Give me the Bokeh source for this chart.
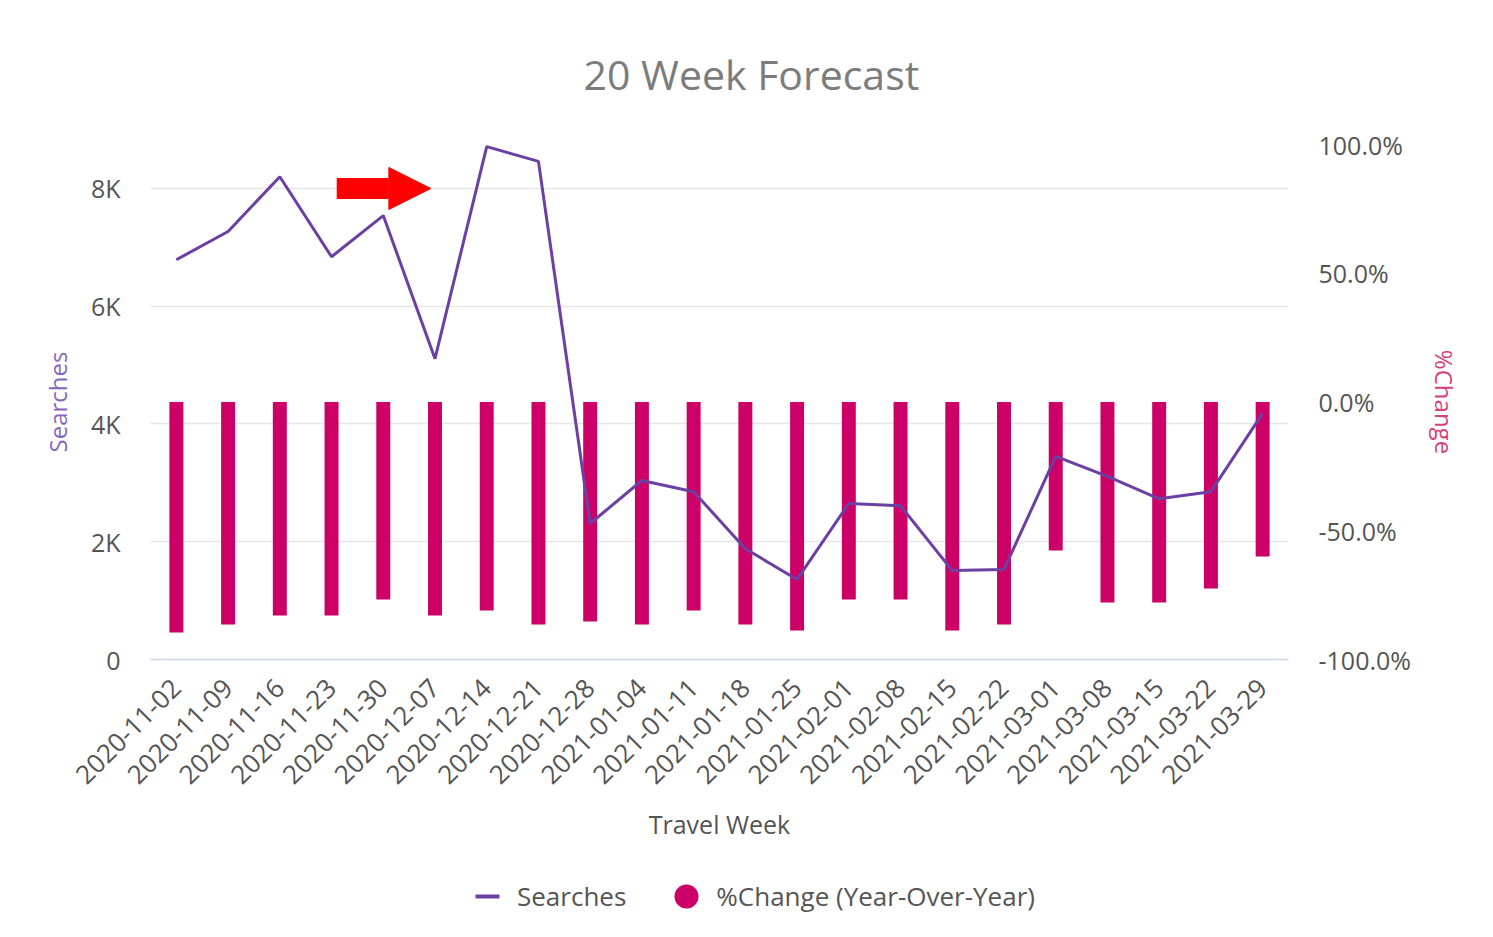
from bokeh.plotting import figure
from bokeh.layouts import column
from bokeh.models import (Range1d, LinearAxis, FixedTicker, Legend, LegendItem,
                          Arrow, NormalHead, Title)
from bokeh.embed import file_html
from bokeh.resources import INLINE

# ---- data ----
weeks = ["2020-11-02", "2020-11-09", "2020-11-16", "2020-11-23", "2020-11-30",
         "2020-12-07", "2020-12-14", "2020-12-21", "2020-12-28", "2021-01-04",
         "2021-01-11", "2021-01-18", "2021-01-25", "2021-02-01", "2021-02-08",
         "2021-02-15", "2021-02-22", "2021-03-01", "2021-03-08", "2021-03-15",
         "2021-03-22", "2021-03-29"]
searches = [6790, 7270, 8200, 6840, 7540, 5110, 8710, 8460, 2310, 3040, 2850,
            1880, 1360, 2650, 2610, 1510, 1530, 3450, 3110, 2730, 2850, 4180]
pct_change = [-89.5, -86.4, -82.9, -82.9, -76.7, -82.9, -81.0, -86.4, -85.2,
              -86.4, -81.0, -86.4, -88.7, -76.7, -76.7, -88.7, -86.4, -57.7,
              -77.9, -77.9, -72.4, -60.0]
left_ticks = [0, 2000, 4000, 6000, 8000]
left_labels = ["0", "2K", "4K", "6K", "8K"]
right_ticks = [-100, -50, 0, 50, 100]
right_labels = ["-100.0%", "-50.0%", "0.0%", "50.0%", "100.0%"]

idx = list(range(len(weeks)))

FONT = "Open Sans"
LINE_C = "#6c3fa3"
BAR_C = "#cc0066"
TXT_C = "#555555"

p = figure(frame_width=1138, frame_height=515,
           min_border_left=150, min_border_right=189,
           min_border_top=143, min_border_bottom=190,
           x_range=Range1d(-0.5, len(weeks) - 0.5),
           y_range=Range1d(0, 8747),
           output_backend="svg", toolbar_location=None,
           background_fill_color="white", border_fill_color="white")
p.outline_line_color = None
p.title = Title(text="20 Week Forecast", align="left", offset=433,
                text_font=FONT, text_font_size="41px",
                text_font_style="normal", text_color="#7c7c7c",
                standoff=86)

p.extra_y_ranges = {"pct": Range1d(-100, 100)}

# x axis
xa = p.xaxis[0]
xa.ticker = FixedTicker(ticks=idx)
xa.major_label_overrides = {i: w for i, w in zip(idx, weeks)}
xa.major_label_orientation = 0.785398
xa.major_label_text_font = FONT
xa.major_label_text_font_size = "26px"
xa.major_label_text_color = TXT_C
xa.major_tick_in = 0
xa.major_tick_out = 0
xa.minor_tick_in = 0
xa.minor_tick_out = 0
xa.major_label_standoff = 24
xa.axis_line_color = "#ccd6eb"
xa.axis_line_width = 1.5
xa.axis_label = "Travel Week"
xa.axis_label_text_font = FONT
xa.axis_label_text_font_size = "25px"
xa.axis_label_text_font_style = "normal"
xa.axis_label_text_color = TXT_C
xa.axis_label_standoff = 12

# left axis
ya = p.yaxis[0]
ya.ticker = FixedTicker(ticks=left_ticks)
ya.major_label_overrides = {t: l for t, l in zip(left_ticks, left_labels)}
ya.major_label_text_font = FONT
ya.major_label_text_font_size = "25px"
ya.major_label_text_color = TXT_C
ya.major_tick_in = 0
ya.major_tick_out = 0
ya.minor_tick_in = 0
ya.minor_tick_out = 0
ya.axis_line_color = None
ya.major_label_standoff = 30
ya.axis_label = "Searches"
ya.axis_label_text_font = FONT
ya.axis_label_text_font_size = "24px"
ya.axis_label_text_font_style = "normal"
ya.axis_label_text_color = "#8566c0"
ya.axis_label_standoff = 14

# right axis
ra = LinearAxis(y_range_name="pct",
                ticker=FixedTicker(ticks=right_ticks),
                major_label_overrides={t: l for t, l in zip(right_ticks, right_labels)})
ra.major_label_text_font = FONT
ra.major_label_text_font_size = "25px"
ra.major_label_text_color = TXT_C
ra.major_tick_in = 0
ra.major_tick_out = 0
ra.minor_tick_in = 0
ra.minor_tick_out = 0
ra.axis_line_color = None
ra.major_label_standoff = 30
ra.axis_label = "%Change"
ra.axis_label_text_font = FONT
ra.axis_label_text_font_size = "24px"
ra.axis_label_text_font_style = "normal"
ra.axis_label_text_color = "#d6417f"
ra.axis_label_standoff = 14
p.add_layout(ra, "right")

p.xgrid.grid_line_color = None
p.ygrid.grid_line_color = "#e6e6e6"
p.ygrid.grid_line_width = 1.5

bars = p.vbar(x=idx, top=0, bottom=pct_change, width=0.27,
              y_range_name="pct", fill_color=BAR_C, line_color=None)
line = p.line(x=idx, y=searches, line_width=3, line_color=LINE_C)

# annotation arrow (red)
ARROW_X0, ARROW_X1, ARROW_Y = 3.1, 4.92, 8000
p.add_layout(Arrow(end=NormalHead(size=42, fill_color="#ff0000", line_color="#ff0000", line_width=1),
                   x_start=ARROW_X0, y_start=ARROW_Y, x_end=ARROW_X1, y_end=ARROW_Y,
                   line_color="#ff0000", line_width=21, line_cap="butt"))

# ---- legend strip (separate figure under the chart) ----
lg = figure(width=1477, height=80, min_border=0,
            x_range=Range1d(0, 1), y_range=Range1d(0, 1),
            x_axis_type=None, y_axis_type=None,
            output_backend="svg", toolbar_location=None,
            background_fill_color="white", border_fill_color="white")
lg.outline_line_color = None
lg.grid.visible = False
# legend-only proxies (a single NaN point, never drawn in the plot area)
NAN = [float("nan")]
dash = lg.scatter(x=NAN, y=NAN, marker="dash", line_color=LINE_C, line_width=4)
dot = lg.scatter(x=NAN, y=NAN, marker="circle", fill_color=BAR_C, line_color=None)

leg = Legend(items=[LegendItem(label="Searches", renderers=[dash]),
                    LegendItem(label="%Change (Year-Over-Year)", renderers=[dot])],
             location=(307, 3), orientation="horizontal",
             glyph_width=60, glyph_height=60, label_standoff=-3,
             padding=0, margin=0, spacing=30,
             border_line_color=None, background_fill_alpha=0,
             label_text_font=FONT, label_text_font_size="26px",
             label_text_color=TXT_C)
lg.add_layout(leg, "center")

open("out.html", "w").write(file_html(column(p, lg, spacing=0), INLINE))
